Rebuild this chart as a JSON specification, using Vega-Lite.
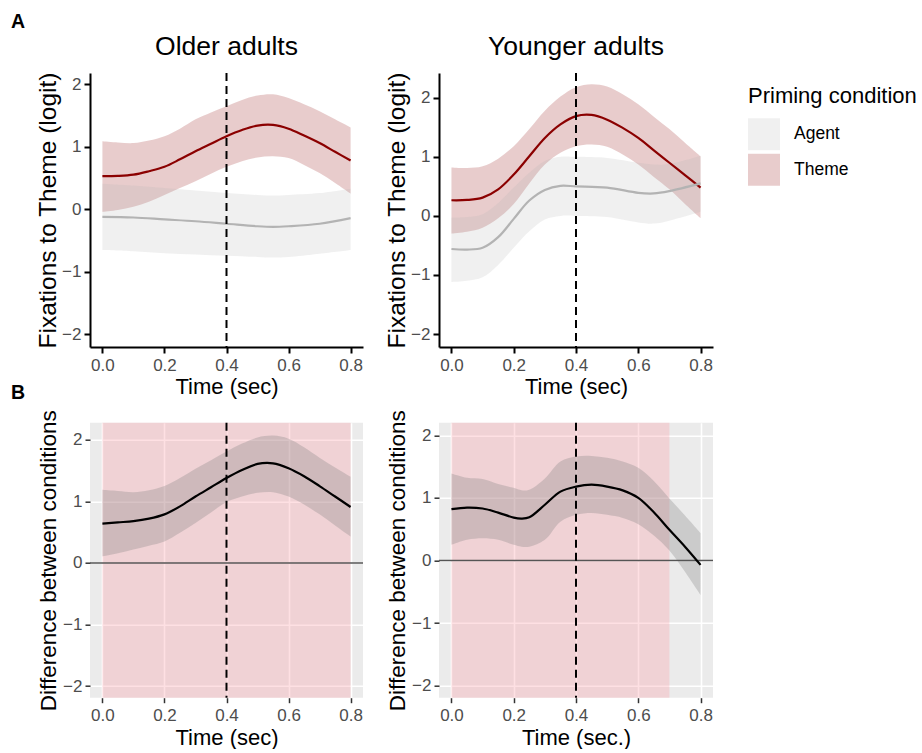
{
  "$schema": "https://vega.github.io/schema/vega-lite/v6.json",
  "background": "white",
  "padding": {"left": 10, "top": 11, "right": 0, "bottom": 0},
  "config": {
    "font": "Liberation Sans",
    "view": {"stroke": null},
    "axis": {"labelFont": "Liberation Sans", "titleFont": "Liberation Sans", "titleFontWeight": "normal", "titleColor": "black", "labelFlush": false, "labelOverlap": false}
  },
  "columns": 2,
  "spacing": {"row": 75.7, "column": 76},
  "bounds": "flush",
  "resolve": {"scale": {"x": "independent", "y": "independent"}},
  "concat": [
    {
      "width": 273, "height": 274,
      "title": {"text": "Older adults", "frame": "group", "anchor": "middle", "baseline": "alphabetic", "offset": -9.6, "fontSize": 26.5, "fontWeight": "normal", "color": "black"},
      "data": {"values": [
        {"t": 0.0, "cond": "Theme", "est": 0.53, "lo": -0.04, "hi": 1.09},
        {"t": 0.05, "cond": "Theme", "est": 0.535, "lo": -0.01, "hi": 1.07},
        {"t": 0.1, "cond": "Theme", "est": 0.555, "lo": 0.04, "hi": 1.06},
        {"t": 0.15, "cond": "Theme", "est": 0.61, "lo": 0.12, "hi": 1.1},
        {"t": 0.2, "cond": "Theme", "est": 0.68, "lo": 0.23, "hi": 1.17},
        {"t": 0.25, "cond": "Theme", "est": 0.8, "lo": 0.34, "hi": 1.29},
        {"t": 0.3, "cond": "Theme", "est": 0.93, "lo": 0.45, "hi": 1.44},
        {"t": 0.35, "cond": "Theme", "est": 1.05, "lo": 0.57, "hi": 1.55},
        {"t": 0.4, "cond": "Theme", "est": 1.17, "lo": 0.68, "hi": 1.65},
        {"t": 0.45, "cond": "Theme", "est": 1.27, "lo": 0.77, "hi": 1.75},
        {"t": 0.5, "cond": "Theme", "est": 1.34, "lo": 0.83, "hi": 1.82},
        {"t": 0.55, "cond": "Theme", "est": 1.35, "lo": 0.85, "hi": 1.84},
        {"t": 0.6, "cond": "Theme", "est": 1.29, "lo": 0.82, "hi": 1.78},
        {"t": 0.65, "cond": "Theme", "est": 1.18, "lo": 0.71, "hi": 1.68},
        {"t": 0.7, "cond": "Theme", "est": 1.06, "lo": 0.58, "hi": 1.57},
        {"t": 0.75, "cond": "Theme", "est": 0.92, "lo": 0.42, "hi": 1.44},
        {"t": 0.8, "cond": "Theme", "est": 0.78, "lo": 0.25, "hi": 1.31},
        {"t": 0.0, "cond": "Agent", "est": -0.12, "lo": -0.65, "hi": 0.41},
        {"t": 0.1, "cond": "Agent", "est": -0.13, "lo": -0.67, "hi": 0.38},
        {"t": 0.2, "cond": "Agent", "est": -0.16, "lo": -0.7, "hi": 0.34},
        {"t": 0.3, "cond": "Agent", "est": -0.19, "lo": -0.72, "hi": 0.3},
        {"t": 0.4, "cond": "Agent", "est": -0.23, "lo": -0.74, "hi": 0.26},
        {"t": 0.5, "cond": "Agent", "est": -0.27, "lo": -0.76, "hi": 0.23},
        {"t": 0.55, "cond": "Agent", "est": -0.28, "lo": -0.77, "hi": 0.22},
        {"t": 0.6, "cond": "Agent", "est": -0.27, "lo": -0.76, "hi": 0.23},
        {"t": 0.7, "cond": "Agent", "est": -0.23, "lo": -0.71, "hi": 0.26},
        {"t": 0.8, "cond": "Agent", "est": -0.14, "lo": -0.65, "hi": 0.33}
      ]},
      "layer": [
        {
          "mark": {"type": "area", "opacity": 0.2, "interpolate": "catmull-rom"},
          "encoding": {
            "x": {"field": "t", "type": "quantitative", "scale": {"domain": [-0.04, 0.84], "nice": false, "zero": false},
              "axis": {"values": [0, 0.2, 0.4, 0.6, 0.8], "format": ".1f", "title": "Time (sec)", "grid": false, "domain": true, "domainColor": "black", "domainWidth": 2, "tickColor": "black", "tickWidth": 2, "tickSize": 6, "labelPadding": 4, "labelFontSize": 17, "labelColor": "#4d4d4d", "titleFontSize": 22, "titlePadding": 3}},
            "y": {"field": "lo", "type": "quantitative", "scale": {"domain": [-2.2, 2.18], "nice": false, "zero": false},
              "axis": {"values": [-2, -1, 0, 1, 2], "format": "d", "title": "Fixations to Theme (logit)", "grid": false, "domain": true, "domainColor": "black", "domainWidth": 2, "tickColor": "black", "tickWidth": 2, "tickSize": 6, "labelPadding": 3, "labelFontSize": 17, "labelColor": "#4d4d4d", "titleFontSize": 24.5, "titlePadding": 1}},
            "y2": {"field": "hi"},
            "color": {"field": "cond", "type": "nominal", "scale": {"domain": ["Agent", "Theme"], "range": ["#b3b3b3", "#8b0000"]},
              "legend": {"title": "Priming condition", "orient": "none", "legendX": 658, "legendY": 13.3, "titleFontSize": 22, "titleFontWeight": "normal", "titleColor": "black", "titlePadding": 10, "labelFontSize": 17.5, "labelColor": "black", "labelOffset": 14, "symbolType": "square", "symbolSize": 1024, "symbolOpacity": 0.2, "symbolStrokeWidth": 0, "rowPadding": 3.5, "padding": 0}}
          }
        },
        {
          "mark": {"type": "line", "strokeWidth": 2.2, "interpolate": "catmull-rom"},
          "encoding": {
            "x": {"field": "t", "type": "quantitative"},
            "y": {"field": "est", "type": "quantitative"},
            "stroke": {"field": "cond", "type": "nominal", "scale": {"domain": ["Agent", "Theme"], "range": ["#b3b3b3", "#8b0000"]}, "legend": null}
          }
        },
        {
          "data": {"values": [{}]},
          "mark": {"type": "rule", "strokeDash": [8, 5], "strokeWidth": 2, "color": "black"},
          "encoding": {"x": {"datum": 0.4}}
        }
      ]
    },
    {
      "width": 274, "height": 274,
      "title": {"text": "Younger adults", "frame": "group", "anchor": "middle", "baseline": "alphabetic", "offset": -9.6, "fontSize": 26.5, "fontWeight": "normal", "color": "black"},
      "data": {"values": [
        {"t": 0.0, "cond": "Theme", "est": 0.265, "lo": -0.3, "hi": 0.82},
        {"t": 0.05, "cond": "Theme", "est": 0.27, "lo": -0.27, "hi": 0.81},
        {"t": 0.1, "cond": "Theme", "est": 0.31, "lo": -0.2, "hi": 0.84},
        {"t": 0.15, "cond": "Theme", "est": 0.45, "lo": -0.04, "hi": 0.97},
        {"t": 0.2, "cond": "Theme", "est": 0.7, "lo": 0.2, "hi": 1.18},
        {"t": 0.25, "cond": "Theme", "est": 1.01, "lo": 0.55, "hi": 1.47},
        {"t": 0.3, "cond": "Theme", "est": 1.32, "lo": 0.87, "hi": 1.78},
        {"t": 0.35, "cond": "Theme", "est": 1.55, "lo": 1.07, "hi": 2.02},
        {"t": 0.4, "cond": "Theme", "est": 1.69, "lo": 1.18, "hi": 2.18},
        {"t": 0.45, "cond": "Theme", "est": 1.71, "lo": 1.21, "hi": 2.23},
        {"t": 0.5, "cond": "Theme", "est": 1.63, "lo": 1.17, "hi": 2.19},
        {"t": 0.55, "cond": "Theme", "est": 1.49, "lo": 1.04, "hi": 2.06},
        {"t": 0.6, "cond": "Theme", "est": 1.32, "lo": 0.87, "hi": 1.89},
        {"t": 0.65, "cond": "Theme", "est": 1.11, "lo": 0.66, "hi": 1.68},
        {"t": 0.7, "cond": "Theme", "est": 0.9, "lo": 0.45, "hi": 1.47},
        {"t": 0.75, "cond": "Theme", "est": 0.69, "lo": 0.2, "hi": 1.24},
        {"t": 0.8, "cond": "Theme", "est": 0.48, "lo": -0.04, "hi": 1.01},
        {"t": 0.0, "cond": "Agent", "est": -0.56, "lo": -1.12, "hi": -0.03},
        {"t": 0.05, "cond": "Agent", "est": -0.57, "lo": -1.1, "hi": -0.02},
        {"t": 0.1, "cond": "Agent", "est": -0.54, "lo": -1.04, "hi": 0.03},
        {"t": 0.15, "cond": "Agent", "est": -0.36, "lo": -0.83, "hi": 0.22},
        {"t": 0.2, "cond": "Agent", "est": -0.05, "lo": -0.54, "hi": 0.48},
        {"t": 0.25, "cond": "Agent", "est": 0.26, "lo": -0.26, "hi": 0.73},
        {"t": 0.3, "cond": "Agent", "est": 0.44, "lo": -0.06, "hi": 0.93},
        {"t": 0.35, "cond": "Agent", "est": 0.51, "lo": 0.0, "hi": 1.0},
        {"t": 0.4, "cond": "Agent", "est": 0.5, "lo": 0.0, "hi": 1.0},
        {"t": 0.5, "cond": "Agent", "est": 0.48, "lo": -0.02, "hi": 0.98},
        {"t": 0.6, "cond": "Agent", "est": 0.39, "lo": -0.11, "hi": 0.9},
        {"t": 0.65, "cond": "Agent", "est": 0.38, "lo": -0.13, "hi": 0.87},
        {"t": 0.7, "cond": "Agent", "est": 0.42, "lo": -0.08, "hi": 0.88},
        {"t": 0.8, "cond": "Agent", "est": 0.55, "lo": 0.07, "hi": 1.02}
      ]},
      "layer": [
        {
          "mark": {"type": "area", "opacity": 0.2, "interpolate": "catmull-rom"},
          "encoding": {
            "x": {"field": "t", "type": "quantitative", "scale": {"domain": [-0.04, 0.84], "nice": false, "zero": false},
              "axis": {"values": [0, 0.2, 0.4, 0.6, 0.8], "format": ".1f", "title": "Time (sec)", "grid": false, "domain": true, "domainColor": "black", "domainWidth": 2, "tickColor": "black", "tickWidth": 2, "tickSize": 6, "labelPadding": 4, "labelFontSize": 17, "labelColor": "#4d4d4d", "titleFontSize": 22, "titlePadding": 3}},
            "y": {"field": "lo", "type": "quantitative", "scale": {"domain": [-2.22, 2.42], "nice": false, "zero": false},
              "axis": {"values": [-2, -1, 0, 1, 2], "format": "d", "title": "Fixations to Theme (logit)", "grid": false, "domain": true, "domainColor": "black", "domainWidth": 2, "tickColor": "black", "tickWidth": 2, "tickSize": 6, "labelPadding": 3, "labelFontSize": 17, "labelColor": "#4d4d4d", "titleFontSize": 24.5, "titlePadding": 1}},
            "y2": {"field": "hi"},
            "color": {"field": "cond", "type": "nominal", "scale": {"domain": ["Agent", "Theme"], "range": ["#b3b3b3", "#8b0000"]},
              "legend": {"title": "Priming condition", "orient": "none", "legendX": 658, "legendY": 13.3, "titleFontSize": 22, "titleFontWeight": "normal", "titleColor": "black", "titlePadding": 10, "labelFontSize": 17.5, "labelColor": "black", "labelOffset": 14, "symbolType": "square", "symbolSize": 1024, "symbolOpacity": 0.2, "symbolStrokeWidth": 0, "rowPadding": 3.5, "padding": 0}}
          }
        },
        {
          "mark": {"type": "line", "strokeWidth": 2.2, "interpolate": "catmull-rom"},
          "encoding": {
            "x": {"field": "t", "type": "quantitative"},
            "y": {"field": "est", "type": "quantitative"},
            "stroke": {"field": "cond", "type": "nominal", "scale": {"domain": ["Agent", "Theme"], "range": ["#b3b3b3", "#8b0000"]}, "legend": null}
          }
        },
        {
          "data": {"values": [{}]},
          "mark": {"type": "rule", "strokeDash": [8, 5], "strokeWidth": 2, "color": "black"},
          "encoding": {"x": {"datum": 0.4}}
        }
      ]
    },
    {
      "width": 273, "height": 275,
      "view": {"fill": "#ebebeb", "stroke": null},
      "data": {"values": [
        {"t": 0.0, "est": 0.64, "lo": 0.11, "hi": 1.19},
        {"t": 0.05, "est": 0.66, "lo": 0.16, "hi": 1.17},
        {"t": 0.1, "est": 0.68, "lo": 0.22, "hi": 1.15},
        {"t": 0.15, "est": 0.72, "lo": 0.28, "hi": 1.18},
        {"t": 0.2, "est": 0.79, "lo": 0.35, "hi": 1.25},
        {"t": 0.25, "est": 0.92, "lo": 0.49, "hi": 1.38},
        {"t": 0.3, "est": 1.08, "lo": 0.65, "hi": 1.53},
        {"t": 0.35, "est": 1.23, "lo": 0.82, "hi": 1.67},
        {"t": 0.4, "est": 1.38, "lo": 0.99, "hi": 1.81},
        {"t": 0.45, "est": 1.51, "lo": 1.08, "hi": 1.94},
        {"t": 0.5, "est": 1.61, "lo": 1.14, "hi": 2.04},
        {"t": 0.55, "est": 1.62, "lo": 1.15, "hi": 2.07},
        {"t": 0.6, "est": 1.54, "lo": 1.08, "hi": 2.02},
        {"t": 0.65, "est": 1.41, "lo": 0.95, "hi": 1.88},
        {"t": 0.7, "est": 1.25, "lo": 0.79, "hi": 1.71},
        {"t": 0.75, "est": 1.08, "lo": 0.61, "hi": 1.55},
        {"t": 0.8, "est": 0.91, "lo": 0.43, "hi": 1.4}
      ]},
      "layer": [
        {
          "data": {"values": [{"start": 0, "end": 0.8}]},
          "mark": {"type": "rect", "color": "#fc98a2", "opacity": 0.3},
          "encoding": {
            "x": {"field": "start", "type": "quantitative", "scale": {"domain": [-0.04, 0.84], "nice": false, "zero": false},
              "axis": {"values": [0, 0.1, 0.2, 0.3, 0.4, 0.5, 0.6, 0.7, 0.8], "format": ".1f", "labelExpr": "round(datum.value*10)%2==0 ? datum.label : ''", "title": "Time (sec)", "grid": true, "gridColor": "white", "gridWidth": {"condition": {"test": "round(datum.value*10)%2==0", "value": 1.6}, "value": 0.8}, "domain": false, "tickColor": "#333333", "tickWidth": 1.5, "tickSize": 5, "tickOpacity": {"condition": {"test": "round(datum.value*10)%2==0", "value": 1}, "value": 0}, "labelPadding": 5, "labelFontSize": 17, "labelColor": "#4d4d4d", "titleFontSize": 22, "titlePadding": 4}},
            "x2": {"field": "end"}
          }
        },
        {
          "mark": {"type": "area", "color": "#808080", "opacity": 0.3, "interpolate": "catmull-rom"},
          "encoding": {
            "x": {"field": "t", "type": "quantitative"},
            "y": {"field": "lo", "type": "quantitative", "scale": {"domain": [-2.19, 2.28], "nice": false, "zero": false},
              "axis": {"values": [-2, -1.5, -1, -0.5, 0, 0.5, 1, 1.5, 2], "format": "d", "labelExpr": "datum.value%1==0 ? datum.label : ''", "title": "Difference between conditions", "grid": true, "gridColor": "white", "gridWidth": {"condition": {"test": "datum.value%1==0", "value": 1.6}, "value": 0.8}, "domain": false, "tickColor": "#333333", "tickWidth": 1.5, "tickSize": 5, "tickOpacity": {"condition": {"test": "datum.value%1==0", "value": 1}, "value": 0}, "labelPadding": 3, "labelFontSize": 17, "labelColor": "#4d4d4d", "titleFontSize": 22.5, "titlePadding": 2}},
            "y2": {"field": "hi"}
          }
        },
        {
          "data": {"values": [{}]},
          "mark": {"type": "rule", "color": "#555555", "strokeWidth": 1.5},
          "encoding": {"y": {"datum": 0}}
        },
        {
          "mark": {"type": "line", "color": "black", "strokeWidth": 2.2, "interpolate": "catmull-rom"},
          "encoding": {"x": {"field": "t", "type": "quantitative"}, "y": {"field": "est", "type": "quantitative"}}
        },
        {
          "data": {"values": [{}]},
          "mark": {"type": "rule", "strokeDash": [8, 5], "strokeWidth": 2, "color": "black"},
          "encoding": {"x": {"datum": 0.4}}
        },
        {
          "data": {"values": [{}]},
          "mark": {"type": "text", "text": "A", "fontSize": 19.5, "fontWeight": "bold", "align": "left", "baseline": "alphabetic", "color": "black"},
          "encoding": {"x": {"datum": -0.2947}, "y": {"datum": 8.696}}
        },
        {
          "data": {"values": [{}]},
          "mark": {"type": "text", "text": "B", "fontSize": 19.5, "fontWeight": "bold", "align": "left", "baseline": "alphabetic", "color": "black"},
          "encoding": {"x": {"datum": -0.2947}, "y": {"datum": 2.66}}
        }
      ]
    },
    {
      "width": 274, "height": 275,
      "view": {"fill": "#ebebeb", "stroke": null},
      "data": {"values": [
        {"t": 0.0, "est": 0.82, "lo": 0.25, "hi": 1.39},
        {"t": 0.05, "est": 0.845, "lo": 0.33, "hi": 1.32},
        {"t": 0.1, "est": 0.83, "lo": 0.355, "hi": 1.3},
        {"t": 0.15, "est": 0.765, "lo": 0.33, "hi": 1.22},
        {"t": 0.2, "est": 0.685, "lo": 0.25, "hi": 1.16},
        {"t": 0.225, "est": 0.67, "lo": 0.22, "hi": 1.12},
        {"t": 0.25, "est": 0.69, "lo": 0.22, "hi": 1.13},
        {"t": 0.3, "est": 0.89, "lo": 0.33, "hi": 1.31},
        {"t": 0.35, "est": 1.1, "lo": 0.62, "hi": 1.58},
        {"t": 0.4, "est": 1.18, "lo": 0.73, "hi": 1.66},
        {"t": 0.45, "est": 1.21, "lo": 0.76, "hi": 1.67},
        {"t": 0.5, "est": 1.18, "lo": 0.73, "hi": 1.64},
        {"t": 0.55, "est": 1.12, "lo": 0.68, "hi": 1.58},
        {"t": 0.6, "est": 1.0, "lo": 0.58, "hi": 1.48},
        {"t": 0.65, "est": 0.77, "lo": 0.4, "hi": 1.27},
        {"t": 0.7, "est": 0.49, "lo": 0.16, "hi": 0.99},
        {"t": 0.75, "est": 0.22, "lo": -0.18, "hi": 0.72},
        {"t": 0.8, "est": -0.07, "lo": -0.55, "hi": 0.44}
      ]},
      "layer": [
        {
          "data": {"values": [{"start": 0, "end": 0.7}]},
          "mark": {"type": "rect", "color": "#fc98a2", "opacity": 0.3},
          "encoding": {
            "x": {"field": "start", "type": "quantitative", "scale": {"domain": [-0.04, 0.84], "nice": false, "zero": false},
              "axis": {"values": [0, 0.1, 0.2, 0.3, 0.4, 0.5, 0.6, 0.7, 0.8], "format": ".1f", "labelExpr": "round(datum.value*10)%2==0 ? datum.label : ''", "title": "Time (sec.)", "grid": true, "gridColor": "white", "gridWidth": {"condition": {"test": "round(datum.value*10)%2==0", "value": 1.6}, "value": 0.8}, "domain": false, "tickColor": "#333333", "tickWidth": 1.5, "tickSize": 5, "tickOpacity": {"condition": {"test": "round(datum.value*10)%2==0", "value": 1}, "value": 0}, "labelPadding": 5, "labelFontSize": 17, "labelColor": "#4d4d4d", "titleFontSize": 22, "titlePadding": 4}},
            "x2": {"field": "end"}
          }
        },
        {
          "mark": {"type": "area", "color": "#808080", "opacity": 0.3, "interpolate": "catmull-rom"},
          "encoding": {
            "x": {"field": "t", "type": "quantitative"},
            "y": {"field": "lo", "type": "quantitative", "scale": {"domain": [-2.19, 2.2], "nice": false, "zero": false},
              "axis": {"values": [-2, -1.5, -1, -0.5, 0, 0.5, 1, 1.5, 2], "format": "d", "labelExpr": "datum.value%1==0 ? datum.label : ''", "title": "Difference between conditions", "grid": true, "gridColor": "white", "gridWidth": {"condition": {"test": "datum.value%1==0", "value": 1.6}, "value": 0.8}, "domain": false, "tickColor": "#333333", "tickWidth": 1.5, "tickSize": 5, "tickOpacity": {"condition": {"test": "datum.value%1==0", "value": 1}, "value": 0}, "labelPadding": 3, "labelFontSize": 17, "labelColor": "#4d4d4d", "titleFontSize": 22.5, "titlePadding": 2}},
            "y2": {"field": "hi"}
          }
        },
        {
          "data": {"values": [{}]},
          "mark": {"type": "rule", "color": "#555555", "strokeWidth": 1.5},
          "encoding": {"y": {"datum": 0}}
        },
        {
          "mark": {"type": "line", "color": "black", "strokeWidth": 2.2, "interpolate": "catmull-rom"},
          "encoding": {"x": {"field": "t", "type": "quantitative"}, "y": {"field": "est", "type": "quantitative"}}
        },
        {
          "data": {"values": [{}]},
          "mark": {"type": "rule", "strokeDash": [8, 5], "strokeWidth": 2, "color": "black"},
          "encoding": {"x": {"datum": 0.4}}
        }
      ]
    }
  ]
}
